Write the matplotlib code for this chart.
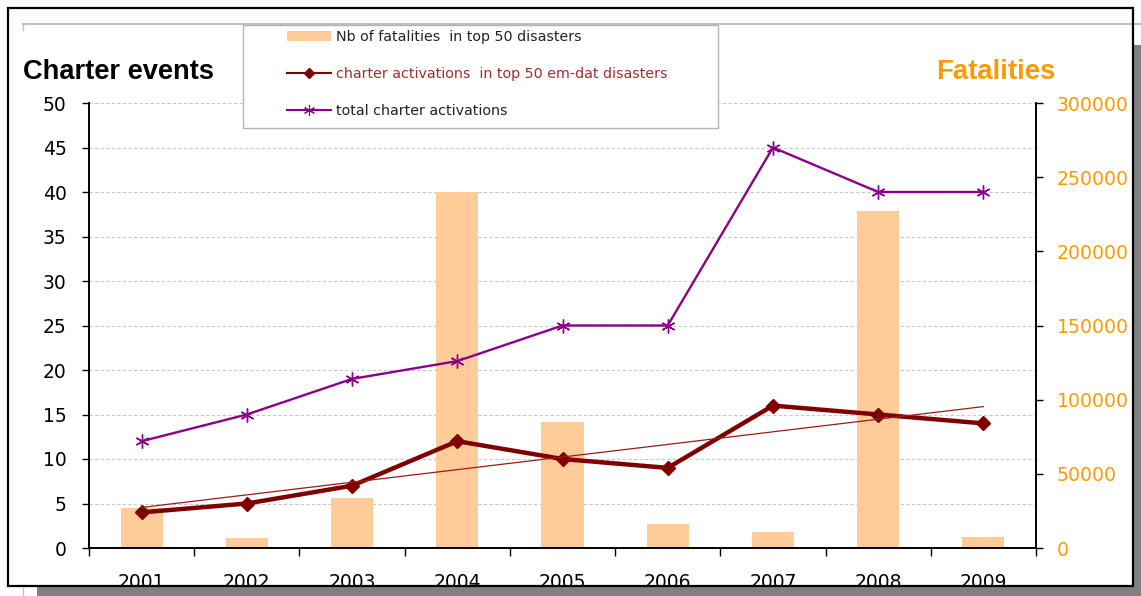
import numpy as np
import matplotlib
matplotlib.use("Agg")
import matplotlib.pyplot as plt
from matplotlib.lines import Line2D
from matplotlib.patches import Rectangle, Patch
from matplotlib.ticker import MultipleLocator

# data
years = ["2001", "2002", "2003", "2004", "2005", "2006", "2007", "2008", "2009"]
fatalities = [27000, 6700, 33700, 240000, 85000, 16200, 10800, 227000, 7400]
top50_activations = [4, 5, 7, 12, 10, 9, 16, 15, 14]
total_activations = [12, 15, 19, 21, 25, 25, 45, 40, 40]

# colours
BAR = "#FFCC99"
DARK_RED = "#800000"
PURPLE = "#8B008B"
ORANGE = "#FF9900"
GRID = "#c8c8c8"

W, H = 1141, 596
fig = plt.figure(figsize=(W / 100, H / 100), dpi=100)


def fx(x):
    return x / W


def fy(y):
    return 1 - y / H


# bars on the fatalities axis (drawn first, right-hand scale)
ax_bar = fig.add_axes([fx(89), fy(548), (1036 - 89) / W, (548 - 103) / H])
x = np.arange(len(years))
ax_bar.bar(x, fatalities, width=0.4, color=BAR, zorder=2)
ax_bar.set_xlim(-0.5, len(years) - 0.5)
ax_bar.set_ylim(0, 300000)

# lines on the charter events axis
ax_line = ax_bar.twinx()
ax_line.yaxis.tick_left()
ax_bar.yaxis.tick_right()

ax_bar.yaxis.set_major_locator(MultipleLocator(50000))
ax_bar.yaxis.set_minor_locator(MultipleLocator(30000))
ax_bar.yaxis.remove_overlapping_locs = False
ax_bar.tick_params(axis="y", which="minor", length=0,
                   labelleft=False, labelright=False)
ax_bar.tick_params(axis="y", which="major", direction="out", length=5,
                   width=1, pad=10, labelsize=13.6, labelcolor=ORANGE,
                   left=False, labelleft=False, right=True, labelright=True)
ax_bar.grid(axis="y", which="minor", ls=(0, (3, 2)), color=GRID, lw=0.8)
ax_bar.set_axisbelow(True)

# category boundaries carry the tick marks, years sit between them
ax_bar.set_xticks(np.arange(-0.5, len(years), 1.0))
ax_bar.set_xticklabels([])
ax_bar.set_xticks(x, minor=True)
ax_bar.set_xticklabels(years, minor=True)
ax_bar.tick_params(axis="x", which="major", direction="out", length=6, width=1)
ax_bar.tick_params(axis="x", which="minor", length=0, pad=18, labelsize=13.5)
ax_bar.spines["top"].set_visible(False)
for s in ("left", "right", "bottom"):
    ax_bar.spines[s].set_linewidth(1.2)

ax_line.set_ylim(0, 50)
ax_line.yaxis.set_major_locator(MultipleLocator(5))
ax_line.tick_params(axis="y", direction="out", length=5, width=1, pad=11,
                    labelsize=13.5, right=False, labelright=False)
ax_line.spines["top"].set_visible(False)
for s in ("left", "right", "bottom"):
    ax_line.spines[s].set_linewidth(1.2)

ax_line.plot(x, total_activations, color=PURPLE, lw=1.7,
             marker=(6, 2, 0), ms=10, mec=PURPLE, mew=1.0, zorder=3)
ax_line.plot(x, top50_activations, color=DARK_RED, lw=3.2,
             marker="D", ms=7.5, mec=DARK_RED, zorder=4)

# linear trend of the top-50 activations
coef = np.polyfit(x, top50_activations, 1)
ax_line.plot(x, np.polyval(coef, x), color="#9B1B1B", lw=0.9, zorder=5)

# axis titles
fig.text(fx(23), fy(72), "Charter events", fontsize=19.6, fontweight="bold",
         family="Liberation Sans", ha="left", va="center")
fig.text(fx(1056), fy(72), "Fatalities", fontsize=19.8, fontweight="bold",
         family="Liberation Sans", color=ORANGE, ha="right", va="center")

# legend box
fig.add_artist(Rectangle((fx(243), fy(128)), (718 - 243) / W, (128 - 25) / H,
                         transform=fig.transFigure, fc="white",
                         ec="#b4b4b4", lw=1, zorder=14))
handles = [
    Patch(fc=BAR, ec="none"),
    Line2D([0], [0], color=DARK_RED, lw=1.5, marker="D", ms=5),
    Line2D([0], [0], color=PURPLE, lw=1.5, marker=(6, 2, 0), ms=8, mew=0.8),
]
labels = ["Nb of fatalities  in top 50 disasters",
          "charter activations  in top 50 em-dat disasters",
          "total charter activations"]
leg = fig.legend(handles, labels, loc="upper left",
                 bbox_to_anchor=(fx(287), fy(30)), frameon=False,
                 borderpad=0, borderaxespad=0, handlelength=3.1,
                 handletextpad=0.35, labelspacing=1.6,
                 prop={"size": 10.3})
leg.set_zorder(15)
leg.get_texts()[0].set_color("#222222")
leg.get_texts()[1].set_color("#A52A2A")
leg.get_texts()[2].set_color("#222222")

# light grey chart-area edge at the top
fig.add_artist(Line2D([fx(23), 1], [fy(24), fy(24)], transform=fig.transFigure,
                      color="#c0c0c0", lw=1.5, zorder=13))
fig.add_artist(Line2D([fx(23), fx(23)], [fy(24), fy(30)],
                      transform=fig.transFigure, color="#c0c0c0", lw=1,
                      zorder=13))

# outer frame with drop shadow
fig.add_artist(Rectangle((0, 0), 1, fy(587), transform=fig.transFigure,
                         fc="white", ec="none", zorder=19))
fig.add_artist(Rectangle((fx(37), 0), (W - 37) / W, fy(587),
                         transform=fig.transFigure, fc="#808080", ec="none",
                         zorder=20))
fig.add_artist(Rectangle((fx(1134), 0), (W - 1134) / W, fy(45),
                         transform=fig.transFigure, fc="#808080", ec="none",
                         zorder=20))
fig.add_artist(Line2D([fx(23), fx(23)], [0, fy(588)],
                      transform=fig.transFigure, color="#c0c0c0", lw=1,
                      zorder=20))
fig.add_artist(Rectangle((fx(8), fy(586)), (1133 - 8) / W, (586 - 8) / H,
                         transform=fig.transFigure, fill=False, ec="black",
                         lw=1.6, zorder=21))

fig.savefig("out.png", dpi=100)
